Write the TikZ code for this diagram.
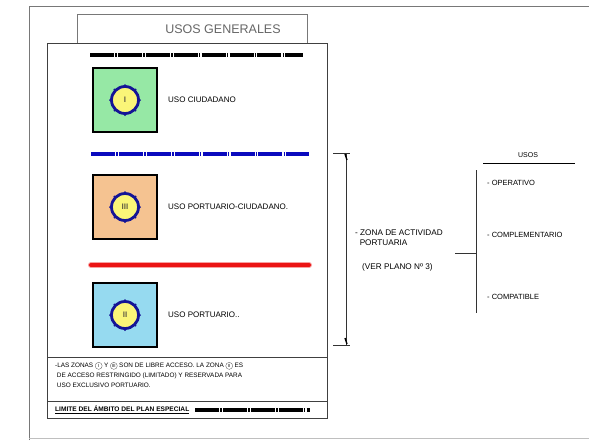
\documentclass[tikz,border=0pt]{standalone}
\usepackage{fontspec}
\setmainfont{Liberation Sans}
\usetikzlibrary{calc}
\definecolor{frameg}{RGB}{120,120,120}
\definecolor{navy}{RGB}{20,20,150}
\definecolor{ublue}{RGB}{10,10,190}
\definecolor{ured}{RGB}{235,20,20}
\definecolor{fgreen}{RGB}{150,232,165}
\definecolor{fpeach}{RGB}{245,195,145}
\definecolor{fsky}{RGB}{150,218,240}
\definecolor{fyel}{RGB}{250,245,120}
\newcommand{\rnum}[1]{\tikz[baseline=(rn.base)]\node[circle,draw=black!70,line width=0.3pt,inner sep=0.2pt,minimum size=7pt,font=\fontsize{4.5}{4.5}\selectfont](rn){#1};}
\tikzset{
  lbl/.style={font=\fontsize{8}{9}\selectfont, anchor=west, inner sep=0pt},
  zone/.style={draw=black, line width=2.6pt, minimum width=64pt, minimum height=64pt, inner sep=0pt},
  ring/.style={circle, draw=navy, line width=2.8pt, fill=fyel, minimum size=27pt, inner sep=0pt, font=\fontsize{8}{8}\selectfont\bfseries, text=black!70!yellow},
  dashdot/.style={line width=4pt, dash pattern=on 24pt off 1.2pt on 1.5pt off 1.2pt},
  thin/.style={line width=0.6pt, draw=black!80},
  rtext/.style={font=\fontsize{8.2}{10}\selectfont, inner sep=0pt},
}
\begin{document}
\begin{tikzpicture}[x=1pt,y=-1pt]
\useasboundingbox (0,0) rectangle (589,440);
\fill[white] (0,0) rectangle (589,440);
% outer frame
\draw[frameg, line width=0.8pt] (29,440) -- (29,6) -- (589,6);
\draw[black!25, line width=0.8pt] (29,438) -- (589,438);
% title box
\node[draw=frameg, line width=0.7pt, minimum width=230pt, minimum height=30pt, anchor=north west, inner sep=0pt] (title) at (77,14) {};
\node[font=\fontsize{12.5}{13}\selectfont, text=black!60] (titletxt) at (223,29) {USOS GENERALES};
% main box
\node[draw=black!75, fill=white, line width=0.8pt, minimum width=280pt, minimum height=375pt, anchor=north west, inner sep=0pt] (main) at (47,43) {};
\draw[black!75, line width=0.8pt] (47,357) -- (327,357);
\draw[black!75, line width=0.8pt] (47,401) -- (327,401);
% lines
\coordinate (k1) at (90,55); \coordinate (k2) at (303,55);
\draw[dashdot, black] (k1) -- (k2);
\coordinate (b1) at (91,154); \coordinate (b2) at (309,154);
\draw[dashdot, ublue] (b1) -- (b2);
\coordinate (r1) at (91,265); \coordinate (r2) at (309,265);
\draw[ured!40, line width=6pt, line cap=round] (r1) -- (r2);
\draw[dashdot, ured, line cap=round] (r1) -- (r2);
% zones
\node[zone, fill=fgreen] (z1) at (125,100) {};
\node[ring] (c1) at (z1.center) {I};
\node[lbl] (t1) at (168,100) {USO CIUDADANO};
\node[zone, fill=fpeach] (z3) at (125,207) {};
\node[ring] (c3) at (z3.center) {III};
\node[lbl] (t3) at (168,207) {USO PORTUARIO-CIUDADANO.};
\node[zone, fill=fsky] (z2) at (125,315) {};
\node[ring] (c2) at (z2.center) {II};
\node[lbl] (t2) at (168,315) {USO PORTUARIO..};
% ring dots
\foreach \c in {c1,c2,c3}{
  \foreach \a in {0,45,...,315}{
    \fill[navy] ($(\c.center)+(\a:15pt)$) circle (1pt);
  }
}
% bottom text
\node[font=\fontsize{6.4}{10.2}\selectfont, anchor=north west, align=left, inner sep=0pt] (note) at (55,362)
  {-LAS ZONAS \rnum{I} Y \rnum{III} SON DE LIBRE ACCESO. LA ZONA \rnum{II} ES\\
   \ DE ACCESO RESTRINGIDO (LIMITADO) Y RESERVADA PARA\\
   \ USO EXCLUSIVO PORTUARIO.};
\node[font=\fontsize{6.6}{7}\selectfont\bfseries, anchor=west, inner sep=0pt] (limite) at (55,410) {\underline{LIMITE DEL ÁMBITO DEL PLAN ESPECIAL}};
\coordinate (l1) at (195,410); \coordinate (l2) at (310,410);
\draw[dashdot, black] (l1) -- (l2);
% bracket
\coordinate (bt) at (346,153); \coordinate (bb) at (346,345);
\draw[thin] (bt) -- (bb);
\draw[thin] (333,153) -- (350,153);
\draw[thin] (333,345) -- (350,345);
\draw[black, line width=1.4pt] (345,154) -- (347,160);
\draw[black, line width=1.4pt] (345,338) -- (347,344);
% zona text
\node[rtext, anchor=north west, align=left] (zona) at (355,230)
  {- ZONA DE ACTIVIDAD\\ \ \ PORTUARIA};
\node[rtext, anchor=west] (ver) at (362,267) {(VER PLANO Nº 3)};
% usos tree
\coordinate (h1) at (455,253);
\coordinate (vt) at (476,170); \coordinate (vb) at (476,313);
\draw[thin] (h1) -- (476,253);
\draw[thin] (vt) -- (vb);
\node[rtext, font=\fontsize{7}{8}\selectfont] (usos) at (528,155) {USOS};
\draw[black, line width=1pt] (483,163) -- (575,163);
\node[lbl, font=\fontsize{7.5}{8}\selectfont] (u1) at (487,183) {- OPERATIVO};
\node[lbl, font=\fontsize{7.5}{8}\selectfont] (u2) at (487,235) {- COMPLEMENTARIO};
\node[lbl, font=\fontsize{7.5}{8}\selectfont] (u3) at (487,297) {- COMPATIBLE};
\end{tikzpicture}
\end{document}
